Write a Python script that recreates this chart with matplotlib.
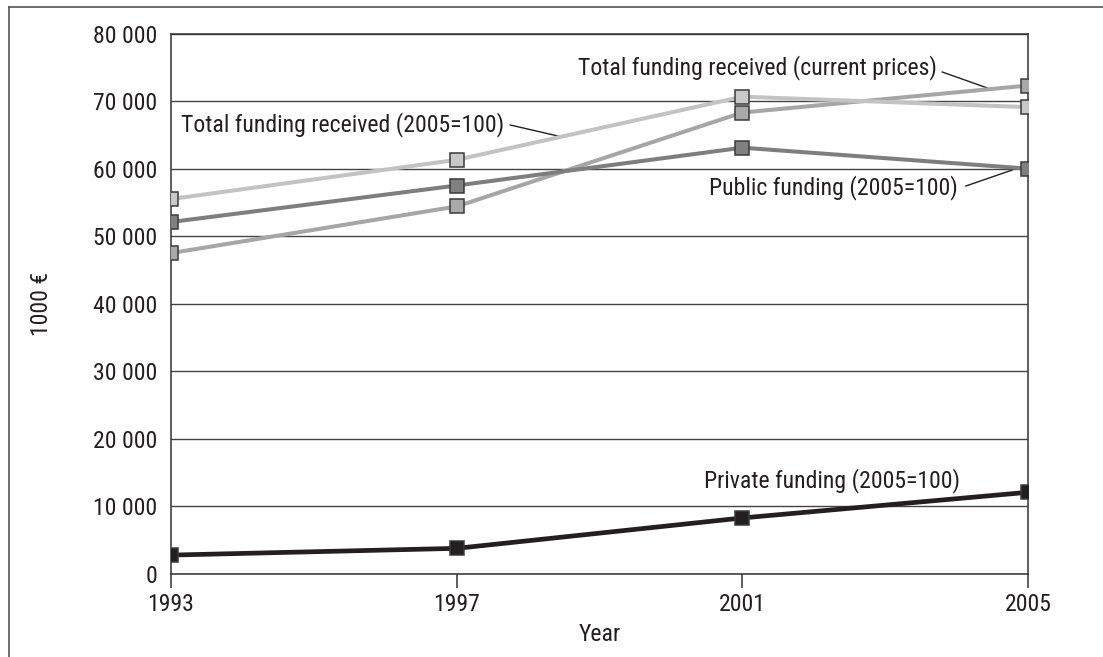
import matplotlib
matplotlib.use("Agg")
import matplotlib.pyplot as plt
from matplotlib import font_manager
from matplotlib.lines import Line2D
from matplotlib.ticker import FuncFormatter

# pick a narrow sans if one is installed
names = {f.name for f in font_manager.fontManager.ttflist}
condensed = [f for f in font_manager.fontManager.ttflist
             if 'ondensed' in f.fname or 'Narrow' in f.fname]
family = 'DejaVu Sans'
stretch = 'normal'
for cand in ['Liberation Sans Narrow', 'Roboto Condensed', 'Open Sans Condensed']:
    if cand in names:
        family = cand
        break
else:
    if condensed:
        family = condensed[0].name
        stretch = condensed[0].stretch
    elif 'Roboto' in names:
        family = 'Roboto'
plt.rcParams['font.family'] = [family, 'DejaVu Sans']
plt.rcParams['font.stretch'] = stretch

# data (1000 EUR)
years = [1993, 1997, 2001, 2005]
total_2005 = [55500, 61300, 70650, 69100]
total_current = [47500, 54400, 68300, 72300]
public_2005 = [52100, 57500, 63100, 60000]
private_2005 = [2800, 3800, 8300, 12100]

series = [
    (total_current, '#a6a6a6', '#a9a9a9', 2.9),
    (total_2005, '#c3c3c3', '#c8c8c8', 2.9),
    (public_2005, '#7e7e7e', '#808080', 2.9),
    (private_2005, '#231f20', '#231f20', 3.4),
]

fig = plt.figure(figsize=(11.03, 6.57), dpi=100)

# size the text so the long label is about as wide as in the reference
probe = fig.text(0, 0, 'Total funding received (2005=100)', fontsize=17)
w = probe.get_window_extent(fig.canvas.get_renderer()).width
probe.remove()
fs = min(18.5, 17 * 323 / w)

ax = fig.add_axes([0.155, 0.1263, 0.777, 0.8227])

for vals, lc, mc, lw in series:
    ax.plot(years, vals, color=lc, lw=lw, marker='s', markersize=9.8,
            markerfacecolor=mc, markeredgecolor='#3a3a3a', markeredgewidth=1.1,
            solid_capstyle='butt', zorder=3)

ax.set_xlim(1993, 2005)
ax.set_ylim(0, 80000)
ax.set_xticks(years)
ax.set_yticks(range(0, 80001, 10000))
ax.yaxis.set_major_formatter(FuncFormatter(lambda v, p: f'{int(v):,}'.replace(',', ' ')))
ax.grid(True, axis='y', color='#444444', lw=1.0, zorder=1)
ax.tick_params(axis='x', direction='out', length=10, width=1.1, color='#333333',
               labelsize=fs, pad=4, labelcolor='#231f20')
ax.tick_params(axis='y', length=0, labelsize=fs, pad=10, labelcolor='#231f20')
for s in ax.spines.values():
    s.set_color('#333333')
    s.set_linewidth(1.1)

ax.set_xlabel('Year', fontsize=fs, color='#231f20', labelpad=5)
ax.set_ylabel('1000 €', fontsize=fs, color='#231f20', labelpad=29)

# annotations with leader lines
tkw = dict(fontsize=fs, color='#231f20', va='center')
ax.text(1993.14, 66460, 'Total funding received (2005=100)', ha='left', **tkw)
ax.plot([1997.75, 1998.48], [66460, 64680], color='#231f20', lw=1, zorder=2)

ax.text(1998.70, 74900, 'Total funding received (current prices)', ha='left', **tkw)
ax.plot([2003.8, 2004.43], [74300, 71940], color='#231f20', lw=1, zorder=2)

ax.text(2004.02, 57130, 'Public funding (2005=100)', ha='right', **tkw)
ax.plot([2004.13, 2004.78], [57430, 59800], color='#231f20', lw=1, zorder=2)

ax.text(2000.47, 13900, 'Private funding (2005=100)', ha='left', **tkw)

# frame around the figure (top and left edges visible)
fig.add_artist(Line2D([9 / 1103, 1], [1 - 7 / 657, 1 - 7 / 657], color='#555555', lw=1.2))
fig.add_artist(Line2D([9 / 1103, 9 / 1103], [0, 1 - 7 / 657], color='#555555', lw=1.2))

fig.savefig('out.png', dpi=100)
